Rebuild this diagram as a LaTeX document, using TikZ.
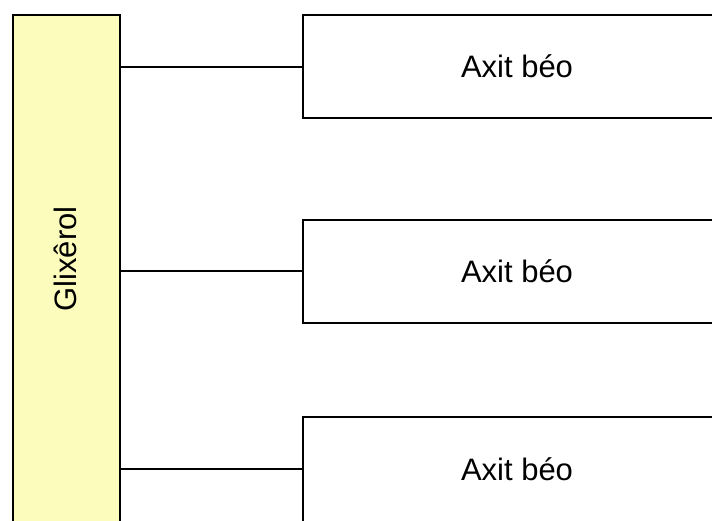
\documentclass[tikz,border=0pt]{standalone}
\usepackage{fontspec}
\setmainfont{Liberation Sans}
\definecolor{glyc}{RGB}{252,252,188}
\begin{document}
\begin{tikzpicture}[x=1pt,y=-1pt,
  acidbox/.style={draw=black,line width=2pt,minimum width=428pt,minimum height=103pt,inner sep=0pt,font=\fontsize{31}{36}\selectfont},
  acidtext/.style={inner sep=0pt,font=\fontsize{31}{36}\selectfont},
  conn/.style={draw=black,line width=2pt}]
\useasboundingbox (0,0) rectangle (712,520);
\clip (0,0) rectangle (712,520);
\node[draw=black,fill=glyc,line width=2pt,minimum width=107pt,minimum height=540pt,inner sep=0pt] (bar) at (66.5,285) {};
\node[rotate=90,font=\fontsize{31}{36}\selectfont] (glabel) at (65,259) {Glixêrol};
\node[acidbox] (a1) at (517,66.5) {Axit béo};
\node[acidbox] (a2) at (517,271) {Axit béo};
\node[acidbox,minimum height=140pt] (a3) at (517,487) {};
\node[acidtext] (t3) at (517,469) {Axit béo};
\draw[conn] (a1.west) -- (a1.west -| bar.east);
\draw[conn] (a2.west) -- (a2.west -| bar.east);
\draw[conn] (t3.west -| a3.west) -- (t3.west -| bar.east);
\end{tikzpicture}
\end{document}
